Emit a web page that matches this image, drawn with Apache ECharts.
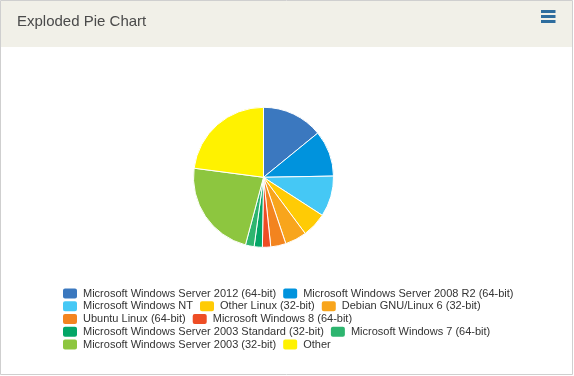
<!DOCTYPE html>
<html>
<head>
<meta charset="utf-8">
<title>Exploded Pie Chart</title>
<script src="https://cdn.jsdelivr.net/npm/echarts@6/dist/echarts.min.js"></script>
<style>
html, body { margin: 0; padding: 0; background: #fff; }
#chart { width: 574px; height: 376px; }
</style>
</head>
<body>
<div id="chart"></div>
<script>
// slice names, in drawing order (clockwise from 12 o'clock)
var categories = [
	'Microsoft Windows Server 2012 (64-bit)',
	'Microsoft Windows Server 2008 R2 (64-bit)',
	'Microsoft Windows NT',
	'Other Linux (32-bit)',
	'Debian GNU/Linux 6 (32-bit)',
	'Ubuntu Linux (64-bit)',
	'Microsoft Windows 8 (64-bit)',
	'Microsoft Windows Server 2003 Standard (32-bit)',
	'Microsoft Windows 7 (64-bit)',
	'Microsoft Windows Server 2003 (32-bit)',
	'Other'
];
// share of each slice, percent
var values = [14.1, 10.6, 9.4, 5.7, 5.0, 3.5, 1.9, 1.9, 2.0, 22.9, 22.9];
var colors = ['#3b78bf', '#0093dd', '#45c8f5', '#ffcb05', '#f8a51c', '#f3841f',
	'#ee4d25', '#04a667', '#2db56f', '#8dc63f', '#fff200'];
// how the legend wraps: item indexes per row
var legendRows = [[0, 1], [2, 3, 4], [5, 6], [7, 8], [9, 10]];

var chart = echarts.init(document.getElementById('chart'));

var legends = legendRows.map(function (row, i) {
	return {
		orient: 'horizontal',
		left: 61,
		top: 286.5 + i * 12.75,
		padding: 0,
		itemWidth: 16,
		itemHeight: 12,
		itemGap: 5,
		icon: 'roundRect',
		selectedMode: false,
		textStyle: { fontFamily: 'Liberation Sans', fontSize: 11, color: '#333' },
		data: row.map(function (k) { return categories[k]; })
	};
});

var data = categories.map(function (name, i) {
	return { name: name, value: values[i], itemStyle: { color: colors[i] } };
});

chart.setOption({
	animation: false,
	backgroundColor: '#fff',
	graphic: [
		// card border + header band
		{ type: 'rect', shape: { x: 0.5, y: 0.5, width: 572, height: 374 },
			style: { fill: '#fff', stroke: '#cfcfcf', lineWidth: 1 }, z: -10 },
		{ type: 'rect', shape: { x: 1, y: 1, width: 571, height: 46 },
			style: { fill: '#f1f0e8' }, z: -9 },
		{ type: 'text', left: 17, top: 14,
			style: { text: 'Exploded Pie Chart', fill: '#4a4a4a', font: '15px "Liberation Sans"' } },
		// menu icon
		{ type: 'rect', shape: { x: 541, y: 10, width: 14.5, height: 3 }, style: { fill: '#2e6d9e' } },
		{ type: 'rect', shape: { x: 541, y: 15, width: 14.5, height: 3 }, style: { fill: '#2e6d9e' } },
		{ type: 'rect', shape: { x: 541, y: 20, width: 14.5, height: 3 }, style: { fill: '#2e6d9e' } }
	],
	legend: legends,
	series: [{
		type: 'pie',
		center: [263.5, 177.3],
		radius: 70,
		startAngle: 90,
		clockwise: true,
		label: { show: false },
		labelLine: { show: false },
		emphasis: { disabled: true },
		itemStyle: { borderColor: '#fff', borderWidth: 1 },
		data: data
	}]
});
</script>
</body>
</html>
